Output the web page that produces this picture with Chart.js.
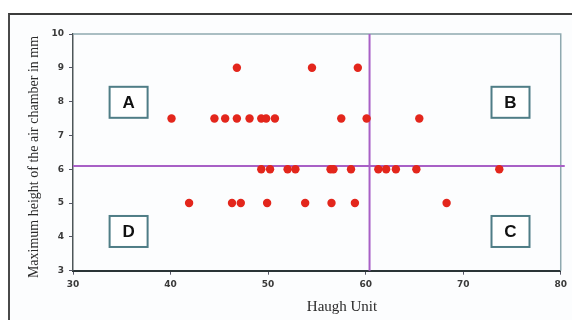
<!DOCTYPE html>
<html>
<head>
<meta charset="utf-8">
<script src="https://cdn.jsdelivr.net/npm/chart.js@4.4.1/dist/chart.umd.min.js"></script>
<style>
  html, body { margin: 0; padding: 0; background: #ffffff; }
  #wrap { position: relative; width: 572px; height: 320px; overflow: hidden; }
  #frame { position: absolute; left: 8px; top: 13px; width: 600px; height: 340px;
           border-top: 2px solid #3c3c3c; border-left: 2px solid #4a4a4a; background: #fcfdfe; }
  canvas { position: absolute; left: 0; top: 0; }
</style>
</head>
<body>
<div id="wrap">
  <div id="frame"></div>
  <canvas id="c" width="572" height="320"></canvas>
</div>
<script>
// Haugh Unit values (x) and maximum air-chamber height in mm (y)
const haughUnit = [
  46.8, 54.5, 59.2,
  40.1, 44.5, 45.6, 46.8, 48.1, 49.3, 49.8, 50.7, 57.5, 60.1, 65.5,
  49.3, 50.2, 52.0, 52.8, 56.4, 56.7, 58.5, 61.3, 62.1, 63.1, 65.2, 73.7,
  41.9, 46.3, 47.2, 49.9, 53.8, 56.5, 58.9, 68.3
];
const airChamberHeight = [
  9, 9, 9,
  7.5, 7.5, 7.5, 7.5, 7.5, 7.5, 7.5, 7.5, 7.5, 7.5, 7.5,
  6, 6, 6, 6, 6, 6, 6, 6, 6, 6, 6, 6,
  5, 5, 5, 5, 5, 5, 5, 5
];
const xTicks = [30, 40, 50, 60, 70, 80];
const yTicks = [3, 4, 5, 6, 7, 8, 9, 10];
const quadrantNames = ['A', 'B', 'C', 'D'];
const dividerX = 60.4;   // vertical reference line (Haugh Unit)
const dividerY = 6.1;    // horizontal reference line (mm)
const xTitle = 'Haugh Unit';
const yTitle = 'Maximum height of the air chamber in mm';

// label box centres in data units (A, B, C, D)
const quadrantX = [35.7, 74.85, 74.85, 35.7];
const quadrantY = [7.98, 7.98, 4.16, 4.16];

const points = haughUnit.map((x, i) => ({ x: x, y: airChamberHeight[i] }));

const overlay = {
  id: 'overlay',
  beforeDatasetsDraw(chart) {
    const { ctx, chartArea: a, scales: { x, y } } = chart;
    ctx.save();
    // top & right plot border
    ctx.strokeStyle = '#8fa9b0';
    ctx.lineWidth = 1.5;
    ctx.beginPath();
    ctx.moveTo(a.left, a.top);
    ctx.lineTo(a.right, a.top);
    ctx.lineTo(a.right, a.bottom);
    ctx.stroke();
    // divider lines
    ctx.strokeStyle = '#a860c6';
    ctx.lineWidth = 2;
    const px = x.getPixelForValue(dividerX);
    const py = y.getPixelForValue(dividerY);
    ctx.beginPath();
    ctx.moveTo(px, a.top);
    ctx.lineTo(px, a.bottom);
    ctx.moveTo(a.left, py);
    ctx.lineTo(a.right + 4, py);
    ctx.stroke();
    // quadrant boxes
    quadrantNames.forEach((n, i) => {
      const cx = x.getPixelForValue(quadrantX[i]);
      const cy = y.getPixelForValue(quadrantY[i]);
      const w = 38, h = 31;
      ctx.fillStyle = '#ffffff';
      ctx.fillRect(cx - w / 2, cy - h / 2, w, h);
      ctx.strokeStyle = '#4f7d86';
      ctx.lineWidth = 2;
      ctx.strokeRect(cx - w / 2, cy - h / 2, w, h);
      ctx.fillStyle = '#111111';
      ctx.font = 'bold 17px "Liberation Sans", Arial, sans-serif';
      ctx.textAlign = 'center';
      ctx.textBaseline = 'middle';
      ctx.fillText(n, cx, cy + 1);
    });
    ctx.restore();
  },
  afterDraw(chart) {
    const { ctx } = chart;
    ctx.save();
    ctx.fillStyle = '#2a2a2a';
    ctx.font = '15px "Liberation Serif", "Times New Roman", serif';
    ctx.textAlign = 'center';
    ctx.textBaseline = 'middle';
    ctx.fillText(xTitle, 342, 307);
    ctx.translate(34, 157);
    ctx.rotate(-Math.PI / 2);
    ctx.font = '14px "Liberation Serif", "Times New Roman", serif';
    ctx.fillText(yTitle, 0, 0);
    ctx.restore();
  }
};

new Chart(document.getElementById('c'), {
  type: 'scatter',
  data: {
    datasets: [{
      data: points,
      backgroundColor: '#e3261c',
      borderColor: '#d8241a',
      borderWidth: 0,
      pointRadius: 4.2,
      pointHoverRadius: 4.2
    }]
  },
  options: {
    responsive: false,
    animation: false,
    events: [],
    layout: { padding: { left: 0, top: 34, right: 8, bottom: 0 } },
    plugins: { legend: { display: false }, tooltip: { enabled: false } },
    scales: {
      x: {
        type: 'linear',
        min: 30, max: 80,
        afterBuildTicks: s => { s.ticks = xTicks.map(v => ({ value: v })); },
        afterFit: s => { s.height = 49.3; },
        grid: { drawOnChartArea: false, drawTicks: true, tickLength: 4, color: '#556', lineWidth: 1 },
        border: { display: true, color: '#2a3436', width: 2 },
        ticks: { padding: 5, color: '#3a3a3a', font: { size: 9, weight: 'bold', family: '"DejaVu Sans", sans-serif' } }
      },
      y: {
        type: 'linear',
        min: 3, max: 10,
        afterBuildTicks: s => { s.ticks = yTicks.map(v => ({ value: v })); },
        afterFit: s => { s.width = 73; },
        grid: { drawOnChartArea: false, drawTicks: true, tickLength: 4, color: '#556', lineWidth: 1 },
        border: { display: true, color: '#4d5658', width: 1.5 },
        ticks: { padding: 5, color: '#3a3a3a', font: { size: 9, weight: 'bold', family: '"DejaVu Sans", sans-serif' } }
      }
    }
  },
  plugins: [overlay]
});
</script>
</body>
</html>
